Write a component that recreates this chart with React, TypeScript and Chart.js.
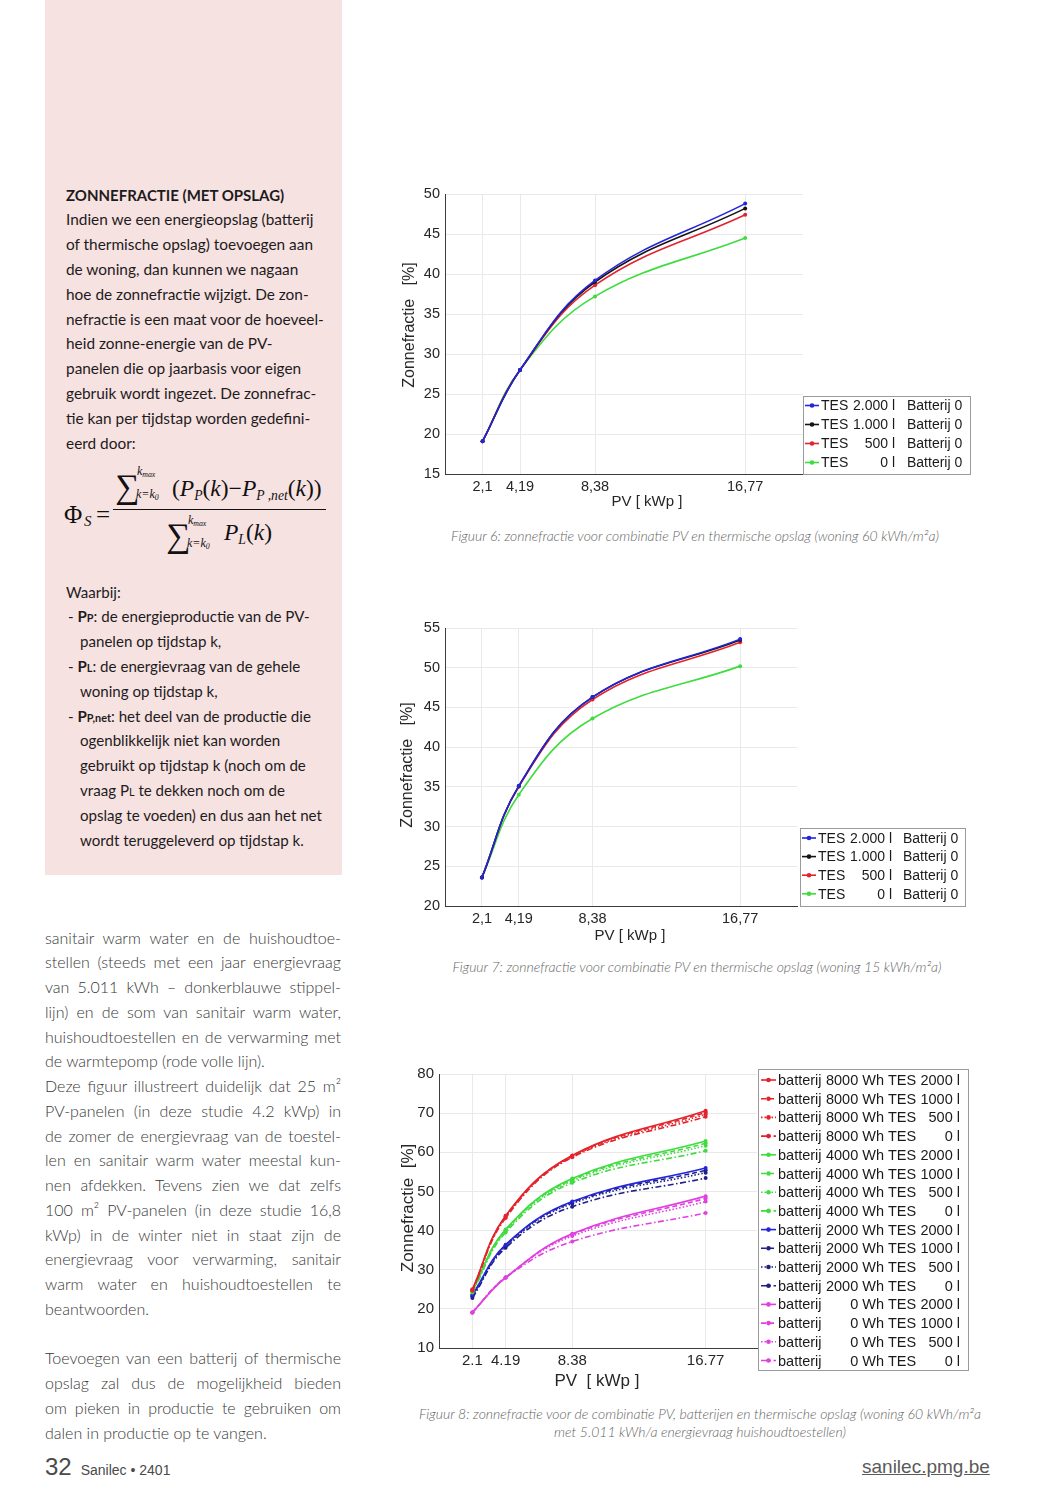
import React, { useEffect, useRef } from 'react';
import { Chart, registerables } from 'chart.js';

Chart.register(...registerables);

// ---------------- data ----------------
const pvKwp = [2.1, 4.19, 8.38, 16.77];
const pvTickLabelsComma = ['2,1', '4,19', '8,38', '16,77'];
const pvTickLabelsDot = ['2.1', '4.19', '8.38', '16.77'];

// Figuur 6 – woning 60 kWh/m²a, batterij 0
const fig6Tes2000 = [19.1, 28.0, 39.2, 48.8];
const fig6Tes1000 = [19.1, 28.0, 39.0, 48.2];
const fig6Tes500 = [19.1, 28.0, 38.6, 47.4];
const fig6Tes0 = [19.1, 28.0, 37.2, 44.5];

// Figuur 7 – woning 15 kWh/m²a, batterij 0
const fig7Tes2000 = [23.6, 35.1, 46.3, 53.6];
const fig7Tes1000 = [23.6, 35.1, 46.3, 53.5];
const fig7Tes500 = [23.6, 35.0, 46.0, 53.2];
const fig7Tes0 = [23.6, 34.0, 43.6, 50.2];

const tesLegendLabels = [
  ['TES', '2.000 l', 'Batterij 0'],
  ['TES', '1.000 l', 'Batterij 0'],
  ['TES', '500 l', 'Batterij 0'],
  ['TES', '0 l', 'Batterij 0'],
];

// Figuur 8 – batterij + TES
const fig8Bat8000Tes2000 = [25.0, 43.8, 59.2, 70.6];
const fig8Bat8000Tes1000 = [24.9, 43.6, 59.1, 70.2];
const fig8Bat8000Tes500 = [24.8, 43.5, 58.9, 69.7];
const fig8Bat8000Tes0 = [24.6, 43.2, 58.7, 69.1];
const fig8Bat4000Tes2000 = [24.7, 40.3, 53.3, 62.9];
const fig8Bat4000Tes1000 = [24.6, 40.1, 53.0, 62.3];
const fig8Bat4000Tes500 = [24.5, 39.9, 52.7, 61.7];
const fig8Bat4000Tes0 = [24.2, 39.5, 52.2, 60.4];
const fig8Bat2000Tes2000 = [23.6, 36.4, 47.4, 56.0];
const fig8Bat2000Tes1000 = [23.4, 36.2, 47.2, 55.4];
const fig8Bat2000Tes500 = [23.2, 36.0, 46.9, 54.8];
const fig8Bat2000Tes0 = [22.8, 35.6, 46.1, 53.4];
const fig8Bat0Tes2000 = [19.1, 28.0, 39.2, 48.8];
const fig8Bat0Tes1000 = [19.1, 28.0, 39.0, 48.2];
const fig8Bat0Tes500 = [19.1, 28.0, 38.6, 47.4];
const fig8Bat0Tes0 = [19.1, 28.0, 37.2, 44.5];

const fig8BatteryLabels = ['8000 Wh', '4000 Wh', '2000 Wh', '0 Wh'];
const fig8TesLabels = ['2000 l', '1000 l', '500 l', '0 l'];

// ---------------- styles ----------------
const SANS = '"Liberation Sans", Arial, sans-serif';
const RED = '#e3232c';
const GREEN = '#3fdc3f';
const BLUE = '#2424dc';
const NAVY = '#20208a';
const BLACK = '#141414';
const MAGENTA = '#e040e0';
const DASH_SOLID: number[] = [];
const DASH_DASHED = [5, 3];
const DASH_DOTTED = [1.5, 2];
const DASH_DASHDOT = [6, 2.5, 1.5, 2.5];

type Series = { values: number[]; color: string; dash: number[]; label: string[] };

type ChartSpec = {
  series: Series[];
  xLabels: string[];
  yMin: number;
  yMax: number;
  yStep: number;
  padding: { left: number; right: number; top: number; bottom: number };
  tickFont: number;
  legendBox: { x: number; y: number; w: number; h: number };
  legendRows: { first: number; step: number };
  legendSample: { x0: number; x1: number };
  legendCols: { x: number; align: 'left' | 'right' }[];
  legendFont: number;
  titles: { text: string; x: number; y: number; rot: number; size: number }[];
  lineWidth: number;
  pointRadius: number;
};

function makeLegendPlugin(spec: ChartSpec) {
  return {
    id: 'boxLegend',
    afterDraw(chart: any) {
      const ctx: CanvasRenderingContext2D = chart.ctx;
      const b = spec.legendBox;
      ctx.save();
      ctx.fillStyle = '#ffffff';
      ctx.fillRect(b.x, b.y, b.w, b.h);
      ctx.strokeStyle = '#9a9a9a';
      ctx.lineWidth = 1;
      ctx.strokeRect(b.x + 0.5, b.y + 0.5, b.w, b.h);
      spec.series.forEach((s, i) => {
        const cy = b.y + spec.legendRows.first + i * spec.legendRows.step;
        ctx.strokeStyle = s.color;
        ctx.lineWidth = spec.lineWidth;
        ctx.setLineDash(s.dash);
        ctx.beginPath();
        ctx.moveTo(b.x + spec.legendSample.x0, cy);
        ctx.lineTo(b.x + spec.legendSample.x1, cy);
        ctx.stroke();
        ctx.setLineDash([]);
        ctx.fillStyle = s.color;
        ctx.beginPath();
        ctx.arc(b.x + (spec.legendSample.x0 + spec.legendSample.x1) / 2, cy, spec.pointRadius + 0.3, 0, Math.PI * 2);
        ctx.fill();
        ctx.fillStyle = '#1a1a1a';
        ctx.font = `${spec.legendFont}px ${SANS}`;
        ctx.textBaseline = 'middle';
        s.label.forEach((t, j) => {
          const c = spec.legendCols[j];
          ctx.textAlign = c.align;
          ctx.fillText(t, b.x + c.x, cy + 1);
        });
      });
      ctx.restore();
    },
  };
}

function makeTitlePlugin(spec: ChartSpec) {
  return {
    id: 'axisTitles',
    afterDraw(chart: any) {
      const ctx: CanvasRenderingContext2D = chart.ctx;
      spec.titles.forEach((t) => {
        ctx.save();
        ctx.translate(t.x, t.y);
        ctx.rotate(t.rot);
        ctx.font = `${t.size}px ${SANS}`;
        ctx.fillStyle = '#262626';
        ctx.textAlign = 'center';
        ctx.textBaseline = 'middle';
        ctx.fillText(t.text, 0, 0);
        ctx.restore();
      });
    },
  };
}

function buildConfig(spec: ChartSpec): any {
  const gridColor = '#e9e9e9';
  const axisColor = '#3c3c3c';
  return {
    type: 'line',
    data: {
      datasets: spec.series.map((s) => ({
        data: pvKwp.map((x, i) => ({ x, y: s.values[i] })),
        borderColor: s.color,
        backgroundColor: s.color,
        pointBackgroundColor: s.color,
        pointBorderWidth: 0,
        borderWidth: spec.lineWidth,
        borderDash: s.dash,
        pointRadius: spec.pointRadius,
        pointHoverRadius: spec.pointRadius,
        tension: 0.4,
        fill: false,
      })),
    },
    options: {
      responsive: false,
      animation: false,
      devicePixelRatio: 1,
      events: [],
      layout: { padding: spec.padding },
      scales: {
        x: {
          type: 'linear',
          min: 0,
          max: 20,
          afterBuildTicks: (s: any) => {
            s.ticks = pvKwp.map((v) => ({ value: v }));
          },
          afterFit: (s: any) => {
            s.height = 30;
          },
          ticks: {
            autoSkip: false,
            maxRotation: 0,
            padding: 4,
            color: '#262626',
            font: { family: SANS, size: spec.tickFont },
            callback: (_v: any, i: number) => spec.xLabels[i],
          },
          grid: { color: gridColor, drawTicks: false },
          border: { color: axisColor, width: 1 },
        },
        y: {
          min: spec.yMin,
          max: spec.yMax,
          afterFit: (s: any) => {
            s.width = 40;
          },
          ticks: {
            stepSize: spec.yStep,
            padding: 5,
            color: '#262626',
            font: { family: SANS, size: spec.tickFont },
          },
          grid: { color: gridColor, drawTicks: false },
          border: { color: axisColor, width: 1 },
        },
      },
      plugins: {
        legend: { display: false },
        tooltip: { enabled: false },
      },
    },
    plugins: [makeLegendPlugin(spec), makeTitlePlugin(spec)],
  };
}

function ChartCanvas({ spec, left, top, width, height }: { spec: ChartSpec; left: number; top: number; width: number; height: number }) {
  const ref = useRef<HTMLCanvasElement>(null);
  useEffect(() => {
    const chart = new Chart(ref.current as HTMLCanvasElement, buildConfig(spec));
    return () => chart.destroy();
  }, []);
  return (
    <canvas
      ref={ref}
      width={width}
      height={height}
      style={{ position: 'absolute', left, top, width, height, display: 'block' }}
    />
  );
}

// ---------------- chart specs ----------------
const tesColors = [BLUE, BLACK, RED, GREEN];

const fig6Spec: ChartSpec = {
  series: [fig6Tes2000, fig6Tes1000, fig6Tes500, fig6Tes0].map((v, i) => ({
    values: v, color: tesColors[i], dash: DASH_SOLID, label: tesLegendLabels[i],
  })),
  xLabels: pvTickLabelsComma,
  yMin: 15, yMax: 50, yStep: 5,
  padding: { left: 10, right: 177, top: 14, bottom: 11 },
  tickFont: 14.5,
  legendBox: { x: 408, y: 216, w: 167, h: 78 },
  legendRows: { first: 9.5, step: 19 },
  legendSample: { x0: 2, x1: 16 },
  legendCols: [{ x: 18, align: 'left' }, { x: 92, align: 'right' }, { x: 104, align: 'left' }],
  legendFont: 14,
  titles: [
    { text: 'PV [ kWp ]', x: 252, y: 322, rot: 0, size: 15 },
    { text: 'Zonnefractie   [%]', x: 15, y: 145, rot: -Math.PI / 2, size: 16 },
  ],
  lineWidth: 1.6,
  pointRadius: 2,
};

const fig7Spec: ChartSpec = {
  series: [fig7Tes2000, fig7Tes1000, fig7Tes500, fig7Tes0].map((v, i) => ({
    values: v, color: tesColors[i], dash: DASH_SOLID, label: tesLegendLabels[i],
  })),
  xLabels: pvTickLabelsComma,
  yMin: 20, yMax: 55, yStep: 5,
  padding: { left: 10, right: 183, top: 16, bottom: 11 },
  tickFont: 14.5,
  legendBox: { x: 405, y: 216, w: 165, h: 78 },
  legendRows: { first: 10, step: 18.6 },
  legendSample: { x0: 2, x1: 16 },
  legendCols: [{ x: 18, align: 'left' }, { x: 92, align: 'right' }, { x: 103, align: 'left' }],
  legendFont: 14,
  titles: [
    { text: 'PV [ kWp ]', x: 235, y: 324, rot: 0, size: 15 },
    { text: 'Zonnefractie   [%]', x: 13, y: 153, rot: -Math.PI / 2, size: 16 },
  ],
  lineWidth: 1.6,
  pointRadius: 2,
};

const fig8Groups = [
  { color: RED, alt: RED, values: [fig8Bat8000Tes2000, fig8Bat8000Tes1000, fig8Bat8000Tes500, fig8Bat8000Tes0] },
  { color: GREEN, alt: GREEN, values: [fig8Bat4000Tes2000, fig8Bat4000Tes1000, fig8Bat4000Tes500, fig8Bat4000Tes0] },
  { color: BLUE, alt: NAVY, values: [fig8Bat2000Tes2000, fig8Bat2000Tes1000, fig8Bat2000Tes500, fig8Bat2000Tes0] },
  { color: MAGENTA, alt: MAGENTA, values: [fig8Bat0Tes2000, fig8Bat0Tes1000, fig8Bat0Tes500, fig8Bat0Tes0] },
];
const fig8Dashes = [DASH_SOLID, DASH_DASHED, DASH_DOTTED, DASH_DASHDOT];

const fig8Series: Series[] = [];
fig8Groups.forEach((g, gi) => {
  g.values.forEach((v, ti) => {
    fig8Series.push({
      values: v,
      color: ti === 0 ? g.color : g.alt,
      dash: fig8Dashes[ti],
      label: ['batterij', fig8BatteryLabels[gi], 'TES', fig8TesLabels[ti]],
    });
  });
});

const fig8Spec: ChartSpec = {
  series: fig8Series,
  xLabels: pvTickLabelsDot,
  yMin: 10, yMax: 80, yStep: 10,
  padding: { left: 4, right: 223, top: 11, bottom: 17 },
  tickFont: 15,
  legendBox: { x: 363, y: 9, w: 210, h: 301 },
  legendRows: { first: 11, step: 18.7 },
  legendSample: { x0: 3, x1: 18 },
  legendCols: [{ x: 20, align: 'left' }, { x: 126, align: 'right' }, { x: 130, align: 'left' }, { x: 202, align: 'right' }],
  legendFont: 14.5,
  titles: [
    { text: 'PV  [ kWp ]', x: 202, y: 321, rot: 0, size: 17 },
    { text: 'Zonnefractie  [%]', x: 13, y: 148, rot: -Math.PI / 2, size: 17 },
  ],
  lineWidth: 1.6,
  pointRadius: 2,
};

// ---------------- page text ----------------
const introLines = [
  'Indien we een energieopslag (batterij',
  'of thermische opslag) toevoegen aan',
  'de woning, dan kunnen we nagaan',
  'hoe de zonnefractie wijzigt. De zon-',
  'nefractie is een maat voor de hoeveel-',
  'heid zonne-energie van de PV-',
  'panelen die op jaarbasis voor eigen',
  'gebruik wordt ingezet. De zonnefrac-',
  'tie kan per tijdstap worden gedefini-',
  'eerd door:',
];

const bodyLines: [string, boolean][] = [
  ['sanitair warm water en de huishoudtoe-', true],
  ['stellen (steeds met een jaar energievraag', true],
  ['van 5.011 kWh – donkerblauwe stippel-', true],
  ['lijn) en de som van sanitair warm water,', true],
  ['huishoudtoestellen en de verwarming met', true],
  ['de warmtepomp (rode volle lijn).', false],
  ['Deze figuur illustreert duidelijk dat 25 m²', true],
  ['PV-panelen (in deze studie 4.2 kWp) in', true],
  ['de zomer de energievraag van de toestel-', true],
  ['len en sanitair warm water meestal kun-', true],
  ['nen afdekken. Tevens zien we dat zelfs', true],
  ['100 m² PV-panelen (in deze studie 16,8', true],
  ['kWp) in de winter niet in staat zijn de', true],
  ['energievraag voor verwarming, sanitair', true],
  ['warm water en huishoudtoestellen te', true],
  ['beantwoorden.', false],
  ['\u00a0', false],
  ['Toevoegen van een batterij of thermische', true],
  ['opslag zal dus de mogelijkheid bieden', true],
  ['om pieken in productie te gebruiken om', true],
  ['dalen in productie op te vangen.', false],
];

const A = { position: 'absolute' } as const;
const SERIF = '"Liberation Serif", "DejaVu Serif", serif';
const subS = { fontSize: '0.58em', verticalAlign: '-0.3em', lineHeight: 0 } as const;
const subTiny = { fontSize: '0.65em', verticalAlign: '-0.3em', lineHeight: 0 } as const;
const smallSub = { fontSize: '0.72em', lineHeight: 1 } as const;

function SumBlock({ left, top }: { left: number; top: number }) {
  return (
    <>
      <span style={{ ...A, left, top, fontSize: 34, lineHeight: '34px', fontFamily: SERIF }}>∑</span>
      <span style={{ ...A, left: left + 22, top: top - 5, fontSize: 12, lineHeight: '12px', fontStyle: 'italic', fontFamily: SERIF, whiteSpace: 'nowrap' }}>
        k<span style={subTiny}>max</span>
      </span>
      <span style={{ ...A, left: left + 21, top: top + 18, fontSize: 12, lineHeight: '12px', fontStyle: 'italic', fontFamily: SERIF, whiteSpace: 'nowrap' }}>
        k=k<span style={subTiny}>0</span>
      </span>
    </>
  );
}

const footerFont = '"Liberation Sans Narrow", "Liberation Sans", sans-serif';

export default function App() {
  const lh = 24.8;
  return (
    <div style={{ position: 'absolute', left: 0, top: 0, width: 1058, height: 1496, background: '#ffffff', overflow: 'hidden', fontFamily: 'Lato, "Open Sans", sans-serif' }}>
      {/* pink box */}
      <div style={{ ...A, left: 45, top: 0, width: 297, height: 875, background: '#f7e2e2' }} />

      {/* intro */}
      <div style={{ ...A, left: 66, top: 195 - lh / 2, lineHeight: `${lh}px`, fontSize: 15.4, color: '#1e1b1c', whiteSpace: 'nowrap' }}>
        <div style={{ fontWeight: 700, fontSize: 15 }}>ZONNEFRACTIE (MET OPSLAG)</div>
        {introLines.map((t, i) => (
          <div key={i}>{t}</div>
        ))}
      </div>

      {/* formula */}
      <div style={{ color: '#111' }}>
        <span style={{ ...A, left: 64, top: 500, fontSize: 25, lineHeight: '30px', fontFamily: SERIF }}>Φ</span>
        <span style={{ ...A, left: 84, top: 514, fontSize: 15, lineHeight: '15px', fontStyle: 'italic', fontFamily: SERIF }}>S</span>
        <span style={{ ...A, left: 96, top: 500, fontSize: 25, lineHeight: '30px', fontFamily: SERIF }}>=</span>
        <div style={{ ...A, left: 113, top: 509, width: 213, height: 1.3, background: '#111' }} />
        <SumBlock left={115} top={470} />
        <span style={{ ...A, left: 172, top: 474, fontSize: 23.5, lineHeight: '28px', fontFamily: SERIF, whiteSpace: 'nowrap' }}>
          (<i>P</i><i style={subS}>P</i>(<i>k</i>)−<i>P</i><i style={subS}>P ,net</i>(<i>k</i>))
        </span>
        <SumBlock left={166} top={519} />
        <span style={{ ...A, left: 224, top: 518, fontSize: 23.5, lineHeight: '28px', fontFamily: SERIF, whiteSpace: 'nowrap' }}>
          <i>P</i><i style={subS}>L</i>(<i>k</i>)
        </span>
      </div>

      {/* waarbij list */}
      <div style={{ ...A, left: 68, top: 592 - lh / 2, lineHeight: `${lh}px`, fontSize: 15.1, color: '#1e1b1c', whiteSpace: 'nowrap' }}>
        <div style={{ marginLeft: -2 }}>Waarbij:</div>
        <div>- <b>P<span style={smallSub}>P</span></b>: de energieproductie van de PV-</div>
        <div style={{ paddingLeft: 12 }}>panelen op tijdstap k,</div>
        <div>- <b>P<span style={smallSub}>L</span></b>: de energievraag van de gehele</div>
        <div style={{ paddingLeft: 12 }}>woning op tijdstap k,</div>
        <div>- <b>P<span style={smallSub}>P,net</span></b>: het deel van de productie die</div>
        <div style={{ paddingLeft: 12 }}>ogenblikkelijk niet kan worden</div>
        <div style={{ paddingLeft: 12 }}>gebruikt op tijdstap k (noch om de</div>
        <div style={{ paddingLeft: 12 }}>vraag P<span style={smallSub}>L</span> te dekken noch om de</div>
        <div style={{ paddingLeft: 12 }}>opslag te voeden) en dus aan het net</div>
        <div style={{ paddingLeft: 12 }}>wordt teruggeleverd op tijdstap k.</div>
      </div>

      {/* body column */}
      <div style={{ ...A, left: 45, top: 938 - 24.75 / 2, width: 296, lineHeight: '24.75px', fontSize: 16, fontWeight: 300, color: '#383838' }}>
        {bodyLines.map(([t, j], i) => (
          <div key={i} style={{ textAlign: j ? 'justify' : 'left', textAlignLast: j ? 'justify' : 'left', height: 24.75 } as any}>{t}</div>
        ))}
      </div>

      {/* charts */}
      <ChartCanvas spec={fig6Spec} left={395} top={180} width={585} height={335} />
      <ChartCanvas spec={fig7Spec} left={395} top={612} width={585} height={335} />
      <ChartCanvas spec={fig8Spec} left={395} top={1060} width={585} height={335} />

      {/* captions */}
      <div style={{ ...A, left: 395, top: 527, width: 600, textAlign: 'center', fontStyle: 'italic', fontWeight: 300, fontSize: 14, color: '#666', whiteSpace: 'nowrap' }}>
        Figuur 6: zonnefractie voor combinatie PV en thermische opslag (woning 60 kWh/m²a)
      </div>
      <div style={{ ...A, left: 397, top: 958, width: 600, textAlign: 'center', fontStyle: 'italic', fontWeight: 300, fontSize: 14, color: '#666', whiteSpace: 'nowrap' }}>
        Figuur 7: zonnefractie voor combinatie PV en thermische opslag (woning 15 kWh/m²a)
      </div>
      <div style={{ ...A, left: 390, top: 1405, width: 620, textAlign: 'center', fontStyle: 'italic', fontWeight: 300, fontSize: 14, lineHeight: '18px', color: '#666', whiteSpace: 'nowrap' }}>
        <div>Figuur 8: zonnefractie voor de combinatie PV, batterijen en thermische opslag (woning 60 kWh/m²a</div>
        <div>met 5.011 kWh/a energievraag huishoudtoestellen)</div>
      </div>

      {/* footer */}
      <div style={{ ...A, left: 45, top: 1452, fontFamily: footerFont, color: '#4a4a4a', whiteSpace: 'nowrap', lineHeight: '30px' }}>
        <span style={{ fontSize: 24 }}>32</span>
        <span style={{ fontSize: 14, marginLeft: 9 }}>Sanilec • 2401</span>
      </div>
      <div style={{ ...A, left: 862, top: 1452, fontFamily: footerFont, color: '#5a5a5a', fontSize: 19, lineHeight: '30px', textDecoration: 'underline', whiteSpace: 'nowrap' }}>
        sanilec.pmg.be
      </div>
    </div>
  );
}
